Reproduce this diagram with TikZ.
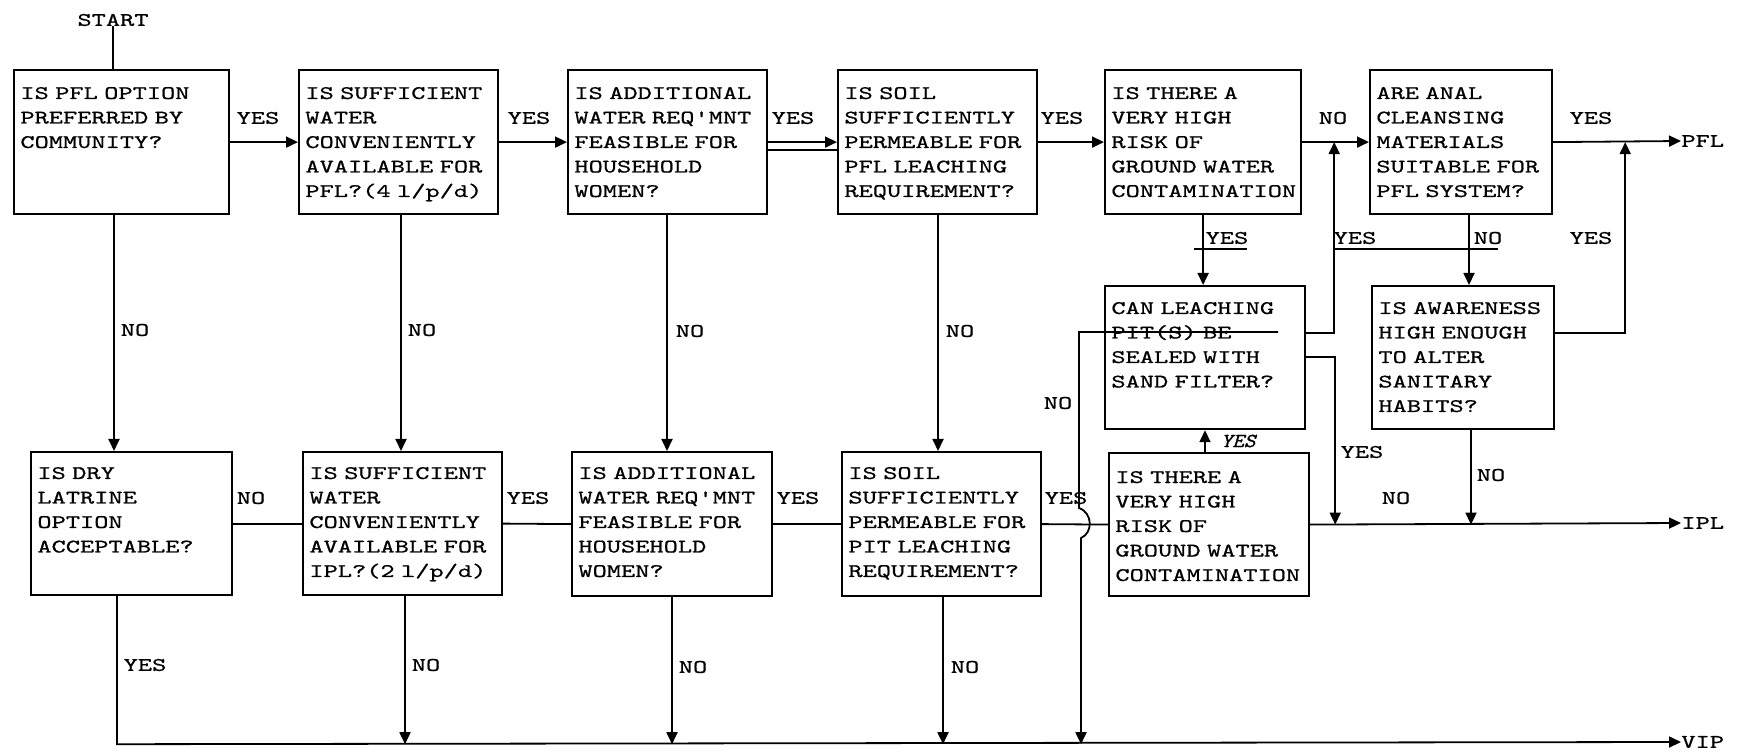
\documentclass[tikz,border=0pt]{standalone}
\usepackage{fontspec}
\usetikzlibrary{arrows.meta,calc}
\newfontfamily\tw{lmmono10-regular.otf}[FakeStretch=1.41,FakeBold=0.8]
\newfontfamily\twi{lmmono10-regular.otf}[FakeStretch=1.1,FakeSlant=0.3,FakeBold=1]
\tikzset{
  qb/.style={draw, line width=1.1pt, inner sep=0pt, anchor=north west},
  qt/.style={anchor=base west, inner sep=0pt, align=left, text width=110pt,
             font=\tw\fontsize{9.6pt}{12.25pt}\selectfont},
  lbl/.style={inner sep=0pt, font=\tw\fontsize{9.6pt}{12pt}\selectfont},
  con/.style={line width=0.9pt},
  arr/.style={con, -{Triangle[length=6pt,width=5.5pt]}},
}
\newcommand\qbox[7]{%
  \node[qb, minimum width=#4*0.5pt, minimum height=#5*0.5pt] (#1) at (#2,#3) {};
  \node[qt] (#1t) at ($(#1.north west)+(7,#6)$) {#7};}
\begin{document}
\begin{tikzpicture}[x=0.5pt,y=-0.5pt]
\useasboundingbox (0,0) rectangle (1740,753);
% ---------- boxes ----------
\qbox{b1}{13}{69}{215}{144}{30}{IS PFL OPTION\\PREFERRED BY\\COMMUNITY?}
\qbox{b2}{298}{69}{199}{144}{30}{IS SUFFICIENT\\WATER\\CONVENIENTLY\\AVAILABLE FOR\\PFL?(4 l/p/d)}
\qbox{b3}{567}{69}{199}{144}{30}{IS ADDITIONAL\\WATER REQ'MNT\\FEASIBLE FOR\\HOUSEHOLD\\WOMEN?}
\qbox{b4}{837}{69}{199}{144}{30}{IS SOIL\\SUFFICIENTLY\\PERMEABLE FOR\\PFL LEACHING\\REQUIREMENT?}
\qbox{b5}{1104}{69}{196}{144}{30}{IS THERE A\\VERY HIGH\\RISK OF\\GROUND WATER\\CONTAMINATION}
\qbox{b6}{1369}{69}{182}{144}{30}{ARE ANAL\\CLEANSING\\MATERIALS\\SUITABLE FOR\\PFL SYSTEM?}
\qbox{b7}{1104}{285}{200}{143}{29}{CAN LEACHING\\PIT(S) BE\\SEALED WITH\\SAND FILTER?}
\qbox{b8}{1371}{285}{182}{143}{29}{IS AWARENESS\\HIGH ENOUGH\\TO ALTER\\SANITARY\\HABITS?}
\qbox{b10}{30}{451}{201}{143}{28}{IS DRY\\LATRINE\\OPTION\\ACCEPTABLE?}
\qbox{b11}{302}{451}{199}{143}{28}{IS SUFFICIENT\\WATER\\CONVENIENTLY\\AVAILABLE FOR\\IPL?(2 l/p/d)}
\qbox{b12}{571}{451}{200}{144}{28}{IS ADDITIONAL\\WATER REQ'MNT\\FEASIBLE FOR\\HOUSEHOLD\\WOMEN?}
\qbox{b13}{841}{451}{199}{144}{28}{IS SOIL\\SUFFICIENTLY\\PERMEABLE FOR\\PIT LEACHING\\REQUIREMENT?}
\qbox{b9}{1108}{452}{200}{143}{31}{IS THERE A\\VERY HIGH\\RISK OF\\GROUND WATER\\CONTAMINATION}
% ---------- terminals ----------
\node[lbl] (start) at (113,20) {START};
\node[lbl, anchor=west] (pfl) at (1681,141) {PFL};
\node[lbl, anchor=west] (ipl) at (1681,523) {IPL};
\node[lbl, anchor=west] (vip) at (1681,742) {VIP};
% ---------- helper coordinates ----------
\coordinate (j1) at ($(b5.east)+(32,0)$);
\coordinate (j2) at ($(b6.east)+(72,0)$);
\coordinate (s1) at ($(b1.south west)+(101,0)$);
\coordinate (s2) at ($(b2.south west)+(103,0)$);
\coordinate (s3) at ($(b3.south west)+(100,0)$);
\coordinate (s4) at ($(b4.south west)+(101,0)$);
\coordinate (s6) at ($(b6.south west)+(100,0)$);
\coordinate (s8) at ($(b8.south west)+(100,0)$);
\coordinate (s9) at ($(b9.north west)+(97,0)$);
\coordinate (r7a) at ($(b7.north east)+(0,48)$);
\coordinate (r7b) at ($(b7.north east)+(0,72)$);
\coordinate (r8) at ($(b8.north east)+(0,48)$);
\coordinate (i1) at ($(b9.east)+(25,0)$);
\coordinate (v0) at ($(b10.south west)+(87,148)$);
\coordinate (t10) at ($(b10.south west)+(87,0)$);
\coordinate (t11) at ($(b11.south west)+(103,0)$);
\coordinate (t12) at ($(b12.south west)+(101,0)$);
\coordinate (t13) at ($(b13.south west)+(102,0)$);
\coordinate (n1) at ($(b7.north west)+(174,47)$);
\coordinate (n2) at ($(b7.north west)+(-25,47)$);
\coordinate (n3) at ($(n2)+(0,176)$);
\coordinate (n4) at ($(n2)+(2,206)$);
% ---------- top row connectors ----------
\draw[con] (start.south) -- (start.south |- b1.north);
\draw[arr] (b1.east) -- (b2.west);
\draw[arr] (b2.east) -- (b3.west);
\draw[arr] (b3.east) -- (b4.west);
\draw[con] ([yshift=-4pt]b3.east) -- ([yshift=-4pt]b4.west);
\draw[arr] (b4.east) -- (b5.west);
\draw[arr] (b5.east) -- (b6.west);
\draw[arr] (b6.east) -- (pfl.west);
% ---------- right part ----------
\draw[arr] (b5.south) -- (b5.south |- b7.north);
\draw[arr] (s6) -- (s6 |- b8.north);
\draw[arr] (r7a) -| (j1);
\draw[arr] (r7b) -| (i1);
\draw[arr] (r8) -| (j2);
\draw[arr] (s8) -- (s8 |- b9.east);
\draw[arr] (s9) -- (s9 |- b7.south);
\draw[arr] (b9.east) -- (ipl.west);
\draw[arr] (n1) -- (n2) -- (n3) .. controls +(14,5) and +(12,-5) .. (n4) -- (n4 |- v0);
% ---------- vertical NO connectors ----------
\draw[arr] (s1) -- (s1 |- b10.north);
\draw[arr] (s2) -- (s2 |- b11.north);
\draw[arr] (s3) -- (s3 |- b12.north);
\draw[arr] (s4) -- (s4 |- b13.north);
% ---------- bottom row connectors ----------
\draw[con] (b10.east) -- (b11.west);
\draw[con] (b11.east) -- (b12.west);
\draw[con] (b12.east) -- (b13.west);
\draw[con] (b13.east) -- (b9.west);
\draw[arr] (t10) -- (v0) -- (vip.west);
\draw[arr] (t11) -- (t11 |- v0);
\draw[arr] (t12) -- (t12 |- v0);
\draw[arr] (t13) -- (t13 |- v0);
% ---------- labels ----------
\node[lbl] at (258,118) {YES};
\node[lbl] at (529,118) {YES};
\node[lbl] at (793,118) {YES};
\node[lbl] at (1062,118) {YES};
\node[lbl] at (1333,118) {NO};
\node[lbl] at (1591,118) {YES};
\node[lbl] (y5) at (1227,238) {YES};
\draw[con] (1194,249) -- (1247,249);
\node[lbl] (y7) at (1355,238) {YES};
\node[lbl] (n6) at (1488,238) {NO};
\draw[con] (1335,249) -- (1498,249);
\node[lbl] at (1591,238) {YES};
\node[lbl] at (135,330) {NO};
\node[lbl] at (422,330) {NO};
\node[lbl] at (690,331) {NO};
\node[lbl] at (960,331) {NO};
\node[lbl] at (1058,403) {NO};
\node[lbl] at (1362,452) {YES};
\node[lbl] at (1491,475) {NO};
\node[lbl] at (1396,498) {NO};
\node[inner sep=0pt, font=\twi\fontsize{10pt}{11pt}\selectfont] at (1238,441) {YES};
\node[lbl] at (251,498) {NO};
\node[lbl] at (528,498) {YES};
\node[lbl] at (798,498) {YES};
\node[lbl] at (1066,498) {YES};
\node[lbl] at (145,665) {YES};
\node[lbl] at (426,665) {NO};
\node[lbl] at (693,667) {NO};
\node[lbl] at (965,667) {NO};
\end{tikzpicture}
\end{document}
